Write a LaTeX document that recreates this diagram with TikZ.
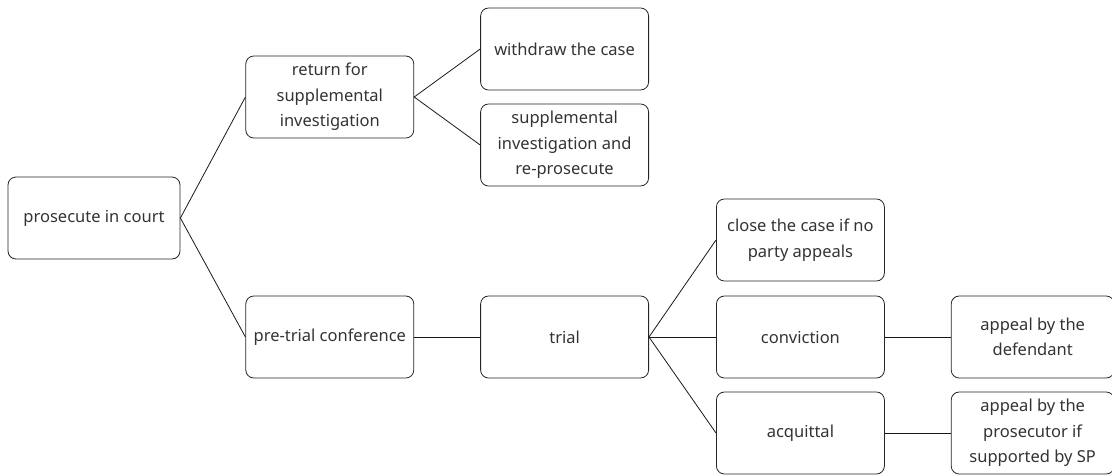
\documentclass[tikz,border=0pt]{standalone}
\usepackage{fontspec}
\setmainfont{Noto Sans}
\usetikzlibrary{positioning}

\begin{document}
\begin{tikzpicture}[
    x=1pt, y=1pt,
    stage/.style={rectangle, rounded corners=8pt, draw=black!85, line width=0.8pt, minimum width=168pt, minimum height=82pt, align=center, inner sep=2pt, font=\fontsize{16.5}{25.5}\selectfont, text=black!80},
    link/.style={draw=black!90, line width=0.8pt}
]
\useasboundingbox (0,0) rectangle (1112,-475);

% Nodes
\node[stage, minimum width=172pt] (court) at (94,-218) {prosecute in court};
\node[stage, right=65pt of court, yshift=121pt] (return) {return for\\supplemental\\investigation};
\node[stage, right=66pt of return, yshift=48pt] (withdraw) {withdraw the case};
\node[stage, right=66pt of return, yshift=-48pt] (reprosecute) {supplemental\\investigation and\\re-prosecute};
\node[stage, right=65pt of court, yshift=-119pt] (pretrial) {pre-trial conference};
\node[stage, right=66pt of pretrial] (trial) {trial};
\node[stage, right=67pt of trial, yshift=97pt] (close) {close the case if no\\party appeals};
\node[stage, right=67pt of trial] (conviction) {conviction};
\node[stage, right=67pt of trial, yshift=-96pt] (acquittal) {acquittal};
\node[stage, minimum width=163pt, right=66pt of conviction] (defappeal) {appeal by the\\defendant};
\node[stage, minimum width=163pt, right=66pt of acquittal] (proappeal) {appeal by the\\prosecutor if\\supported by SP};

% Connectors
\draw[link] (court.east) -- (return.west);
\draw[link] (court.east) -- (pretrial.west);
\draw[link] (return.east) -- (withdraw.west);
\draw[link] (return.east) -- (reprosecute.west);
\draw[link] (pretrial.east) -- (trial.west);
\draw[link] (trial.east) -- (close.west);
\draw[link] (trial.east) -- (conviction.west);
\draw[link] (trial.east) -- (acquittal.west);
\draw[link] (conviction.east) -- (defappeal.west);
\draw[link] (acquittal.east) -- (proappeal.west);

\end{tikzpicture}
\end{document}
